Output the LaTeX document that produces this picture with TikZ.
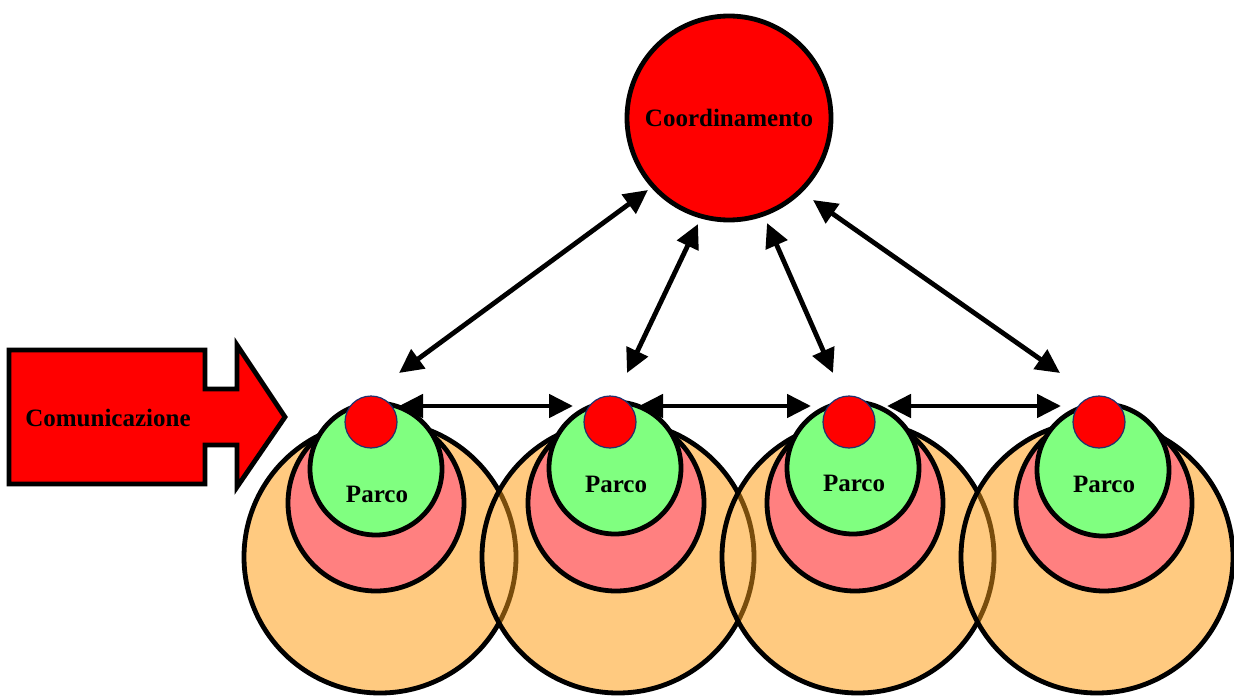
\documentclass[tikz,border=0pt]{standalone}
\usepackage{fontspec}
\setmainfont{Liberation Serif}
\usetikzlibrary{arrows.meta}

\definecolor{hubred}{RGB}{255,0,0}
\definecolor{zoneorange}{RGB}{255,202,128}
\definecolor{zonepink}{RGB}{255,128,128}
\definecolor{zonegreen}{RGB}{128,255,128}
\definecolor{rimblue}{RGB}{30,50,110}
\definecolor{hiddenrim}{RGB}{120,76,12}

\tikzset{
  outline/.style={draw=black, line width=4.8},
  midzone/.style={outline, fill=zonepink},
  corezone/.style={outline, fill=zonegreen},
  seed/.style={circle, draw=rimblue, line width=1.2, fill=hubred, minimum size=52, inner sep=0},
  label/.style={font=\fontsize{25}{30}\selectfont\bfseries, text=black},
  link/.style={line width=4.8, {Triangle[length=24,width=23]}-{Triangle[length=24,width=23]}},
}

% outer zone of a park: filled disc, the rim of the previous zone seen
% through it, then its own rim
% #1 centre x, #2 previous centre x (empty for none)
\newcommand{\outerzone}[2]{%
  \fill[zoneorange] (#1,557) circle[radius=136];
  \ifx\relax#2\relax\else
    \begin{scope}
      \clip (#1,557) circle[radius=136];
      \draw[hiddenrim, line width=4.8] (#2,557) circle[radius=136];
    \end{scope}
  \fi
  \draw[outline] (#1,557) circle[radius=136];
}

% middle and core zones, the centre dot and its label
% #1 name, #2 middle centre x, #3 core centre x, #4 core centre y,
% #5 dot x, #6 label x, #7 label y
\newcommand{\parkcore}[7]{%
  \path[midzone] (#2,503) circle[radius=88];
  \path[corezone] (#3,#4) circle[radius=66];
  \node[label] (#1lbl) at (#6,#7) {Parco};
  \node[seed] (#1) at (#5,422) {};
}

\begin{document}
\begin{tikzpicture}[x=1pt,y=-1pt]
  \useasboundingbox (0,0) rectangle (1234,698);

  % parks, left to right
  \outerzone{380}{}
  \parkcore{pa}{376}{376}{469}{371}{377}{494}
  \outerzone{618}{380}
  \parkcore{pb}{616}{615}{468}{610}{616}{484}
  \outerzone{858}{618}
  \parkcore{pc}{855}{853}{468}{849}{854}{483}
  \outerzone{1097}{858}
  \parkcore{pd}{1104}{1103}{470}{1099}{1104}{484}

  % coordinating centre
  \node[circle, outline, fill=hubred, minimum size=204, inner sep=0, label] (coord) at (729,118) {Coordinamento};

  % communication arrow
  \draw[outline, fill=hubred, miter limit=10]
    (9,350) -- (205,350) -- (205,389) -- (237,389) -- (237,345) -- (285,417)
    -- (237,487) -- (237,445) -- (205,445) -- (205,484) -- (9,484) -- cycle;
  \node[label] (comm) at (108,418) {Comunicazione};

  % arrow end points
  \coordinate (ca) at (648,190);  \coordinate (pat) at (399,373);
  \coordinate (cb) at (698,224);  \coordinate (pbt) at (627,373);
  \coordinate (cc) at (767,223);  \coordinate (pct) at (833,373);
  \coordinate (cd) at (813,200);  \coordinate (pdt) at (1060,373);
  \coordinate (abr) at (399,406); \coordinate (bal) at (573,406);
  \coordinate (bbr) at (639,406); \coordinate (cal) at (811,406);
  \coordinate (cbr) at (887,406); \coordinate (dal) at (1061,406);

  % links to the coordinating centre
  \draw[link] (pat) -- (ca);
  \draw[link] (pbt) -- (cb);
  \draw[link] (pct) -- (cc);
  \draw[link] (pdt) -- (cd);

  % links between neighbouring parks
  \draw[link] (abr) -- (bal);
  \draw[link] (bbr) -- (cal);
  \draw[link] (cbr) -- (dal);
\end{tikzpicture}
\end{document}
